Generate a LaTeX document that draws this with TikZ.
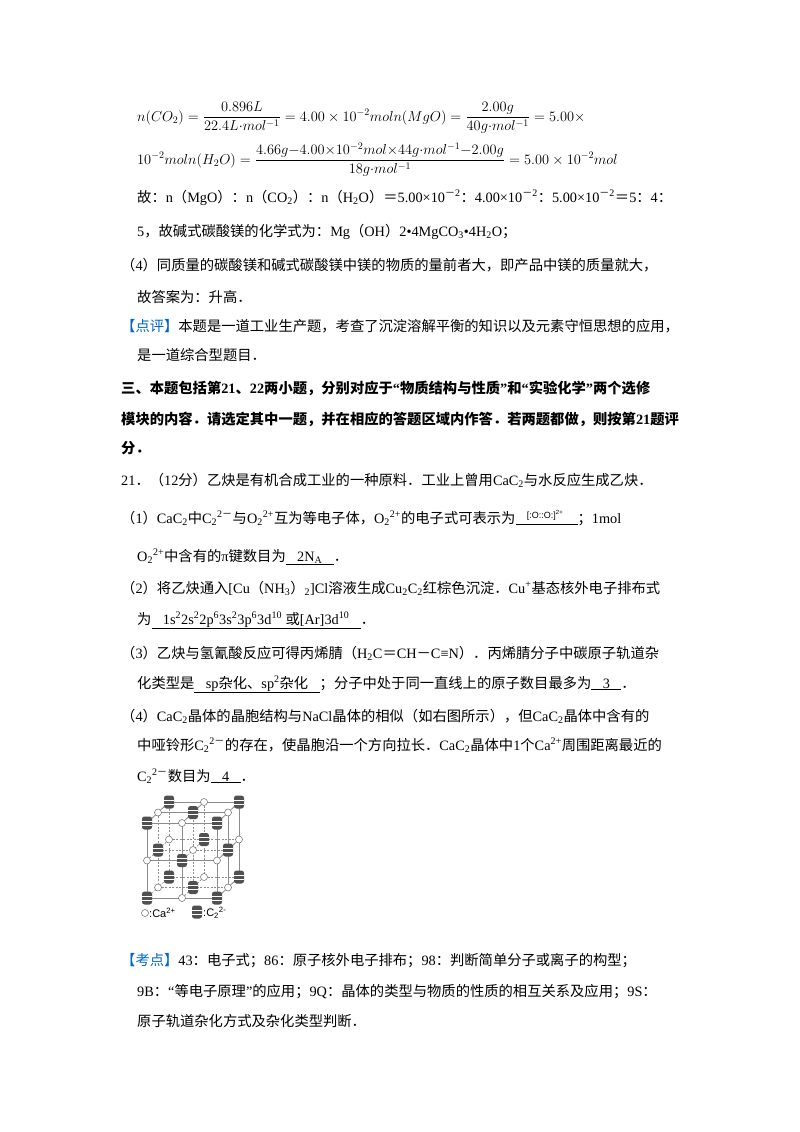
\documentclass[tikz,border=0pt]{standalone}
\usepackage{fontspec}
\setmainfont{Liberation Serif}
\newfontfamily\cjk{Noto Sans CJK SC}
\newfontfamily\lsans{Liberation Sans}
\XeTeXinterchartokenstate=1
\newXeTeXintercharclass\CJKcls
\count255="3000
\loop \XeTeXcharclass\count255=\CJKcls \ifnum\count255<"9FFF \advance\count255 by 1 \repeat
\count255="FF00
\loop \XeTeXcharclass\count255=\CJKcls \ifnum\count255<"FFEF \advance\count255 by 1 \repeat
\XeTeXinterchartoks 0 \CJKcls = {\cjk}
\XeTeXinterchartoks 4095 \CJKcls = {\cjk}
\XeTeXinterchartoks \CJKcls 0 = {\rmfamily}
\XeTeXinterchartoks \CJKcls 4095 = {\rmfamily}
\newcommand\Su[1]{\textsuperscript{#1}}
\newcommand\Sb[1]{\textsubscript{#1}}
\newcommand\ans[1]{\underline{\hspace{0.8em}#1\hspace{0.8em}}}
\newcommand\Fr[2]{{\displaystyle\frac{#1}{#2}}}
\definecolor{kblue}{RGB}{0,102,204}
\definecolor{atom}{RGB}{80,80,80}
\tikzset{
  txt/.style={anchor=base west,inner sep=0pt,font=\fontsize{14.3}{17}\selectfont},
  mth/.style={anchor=base west,inner sep=0pt,font=\fontsize{14.5}{17}\selectfont},
  grid/.style={draw=black!45,line width=0.8pt},
  dgrid/.style={draw=black!45,line width=0.6pt,dash pattern=on 2pt off 1.5pt},
  ca/.style={circle,draw=black!60,fill=white,line width=0.5pt,minimum size=7pt,inner sep=0pt},
}
\newcommand\dumb[2]{%
  \fill[atom,rounded corners=2.5pt] (#1-5,#2-6.5) rectangle (#1+5,#2+6.5);
  \draw[white,line width=1pt] (#1-5,#2-2) -- (#1+5,#2-2) (#1-5,#2+2) -- (#1+5,#2+2);
}
\begin{document}
\begin{tikzpicture}[x=1pt,y=-1pt]
\useasboundingbox[fill=white] (0,0) rectangle (800,1132);
\node[mth] (f1) at (137,121) {$n(CO_2)=\Fr{0.896L}{22.4L{\cdot}mol^{-1}}=4.00\times10^{-2}moln(MgO)=\Fr{2.00g}{40g{\cdot}mol^{-1}}=5.00\times$};
\node[mth] (f2) at (137,164) {$10^{-2}moln(H_2O)=\Fr{4.66g{-}4.00{\times}10^{-2}mol{\times}44g{\cdot}mol^{-1}{-}2.00g}{18g{\cdot}mol^{-1}}=5.00\times10^{-2}mol$};
\node[txt] (l1) at (137,202) {故：n（MgO）：n（CO\Sb{2}）：n（H\Sb{2}O）＝5.00×10\Su{－2}：4.00×10\Su{－2}：5.00×10\Su{－2}＝5：4：};
\node[txt] (l2) at (137,236) {5，故碱式碳酸镁的化学式为：Mg（OH）2•4MgCO\Sb{3}•4H\Sb{2}O；};
\node[txt] (l3) at (121,270) {（4）同质量的碳酸镁和碱式碳酸镁中镁的物质的量前者大，即产品中镁的质量就大，};
\node[txt] (l4) at (137,302) {故答案为：升高．};
\node[txt] (l5) at (121,331) {\textcolor{kblue}{【点评】}本题是一道工业生产题，考查了沉淀溶解平衡的知识以及元素守恒思想的应用，};
\node[txt] (l6) at (137,360) {是一道综合型题目．};
\node[txt,font=\fontsize{14.3}{17}\selectfont\bfseries] (l7) at (121,393) {三、本题包括第21、22两小题，分别对应于“物质结构与性质”和“实验化学”两个选修};
\node[txt,font=\fontsize{14.3}{17}\selectfont\bfseries] (l8) at (121,424) {模块的内容．请选定其中一题，并在相应的答题区域内作答．若两题都做，则按第21题评};
\node[txt,font=\fontsize{14.3}{17}\selectfont\bfseries] (l9) at (121,453) {分．};
\node[txt] (l10) at (121,485) {21．（12分）乙炔是有机合成工业的一种原料．工业上曾用CaC\Sb{2}与水反应生成乙炔．};
\node[txt] (l11) at (121,523) {（1）CaC\Sb{2}中C\Sb{2}\Su{2－}与O\Sb{2}\Su{2+}互为等电子体，O\Sb{2}\Su{2+}的电子式可表示为\underline{\hspace{0.8em}\raisebox{5pt}{\lsans\fontsize{9}{10}\selectfont[:O::O:]\Su{2+}}\hspace{1em}}；1mol};
\node[txt] (l12) at (137,561) {O\Sb{2}\Su{2+}中含有的π键数目为\ans{2N\Sb{A}}．};
\node[txt] (l13) at (121,593) {（2）将乙炔通入[Cu（NH\Sb{3}）\Sb{2}]Cl溶液生成Cu\Sb{2}C\Sb{2}红棕色沉淀．Cu\Su{+}基态核外电子排布式};
\node[txt] (l14) at (137,624) {为\ans{1s\Su{2}2s\Su{2}2p\Su{6}3s\Su{2}3p\Su{6}3d\Su{10} 或[Ar]3d\Su{10}}．};
\node[txt] (l15) at (121,658) {（3）乙炔与氢氰酸反应可得丙烯腈（H\Sb{2}C＝CH－C≡N）．丙烯腈分子中碳原子轨道杂};
\node[txt] (l16) at (137,688) {化类型是\ans{sp杂化、sp\Su{2}杂化}；分子中处于同一直线上的原子数目最多为\ans{3}．};
\node[txt] (l17) at (121,721) {（4）CaC\Sb{2}晶体的晶胞结构与NaCl晶体的相似（如右图所示），但CaC\Sb{2}晶体中含有的};
\node[txt] (l18) at (137,750) {中哑铃形C\Sb{2}\Su{2－}的存在，使晶胞沿一个方向拉长．CaC\Sb{2}晶体中1个Ca\Su{2+}周围距离最近的};
\node[txt] (l19) at (137,781) {C\Sb{2}\Su{2－}数目为\ans{4}．};
% crystal
\foreach \k in {2,1,0}{
  \foreach \j in {0,1,2}{
    \pgfmathsetmacro\ya{823+37.5*\j-10.5*\k}
    \pgfmathsetmacro\xa{147+11*\k}
    \pgfmathsetmacro\xb{217+11*\k}
    \ifnum\k=0 \draw[grid] (\xa,\ya) -- (\xb,\ya); \else \ifnum\j=0 \draw[grid] (\xa,\ya) -- (\xb,\ya); \else \draw[dgrid] (\xa,\ya) -- (\xb,\ya); \fi\fi
  }
  \foreach \i in {0,1,2}{
    \pgfmathsetmacro\xa{147+35*\i+11*\k}
    \pgfmathsetmacro\ya{823-10.5*\k}
    \pgfmathsetmacro\yb{898-10.5*\k}
    \ifnum\k=0 \draw[grid] (\xa,\ya) -- (\xa,\yb); \else \ifnum\i=2 \draw[grid] (\xa,\ya) -- (\xa,\yb); \else \draw[dgrid] (\xa,\ya) -- (\xa,\yb); \fi\fi
  }
}
\foreach \i in {0,1,2}{
  \foreach \j in {0,1,2}{
    \pgfmathsetmacro\xa{147+35*\i}
    \pgfmathsetmacro\ya{823+37.5*\j}
    \pgfmathsetmacro\xb{\xa+22}
    \pgfmathsetmacro\yb{\ya-21}
    \pgfmathtruncatemacro\vis{(\i==2)||(\j==0)}
    \ifnum\vis=1 \draw[grid] (\xa,\ya) -- (\xb,\yb); \else \draw[dgrid] (\xa,\ya) -- (\xb,\yb); \fi
  }
}
\foreach \k in {2,1,0}{
  \foreach \j in {0,1,2}{
    \foreach \i in {0,1,2}{
      \pgfmathsetmacro\xa{147+35*\i+11*\k}
      \pgfmathsetmacro\ya{823+37.5*\j-10.5*\k}
      \pgfmathtruncatemacro\parity{mod(\i+\j+\k,2)}
      \ifnum\parity=0 \dumb{\xa}{\ya} \else \node[ca] at (\xa,\ya) {}; \fi
    }
  }
}
\node[ca] (lc) at (145,913) {};
\node[anchor=west,inner sep=0pt,font=\lsans\fontsize{11}{12}\selectfont] (lca) at (149,913) {:Ca\Su{2+}};
\dumb{197}{912}
\node[anchor=west,inner sep=0pt,font=\lsans\fontsize{11}{12}\selectfont] (lcc) at (203,913) {:C\Sb{2}\Su{2-}};
\node[txt] (l20) at (121,965) {\textcolor{kblue}{【考点】}43：电子式；86：原子核外电子排布；98：判断简单分子或离子的构型；};
\node[txt] (l21) at (137,996) {9B：“等电子原理”的应用；9Q：晶体的类型与物质的性质的相互关系及应用；9S：};
\node[txt] (l22) at (137,1026) {原子轨道杂化方式及杂化类型判断．};
\end{tikzpicture}
\end{document}
